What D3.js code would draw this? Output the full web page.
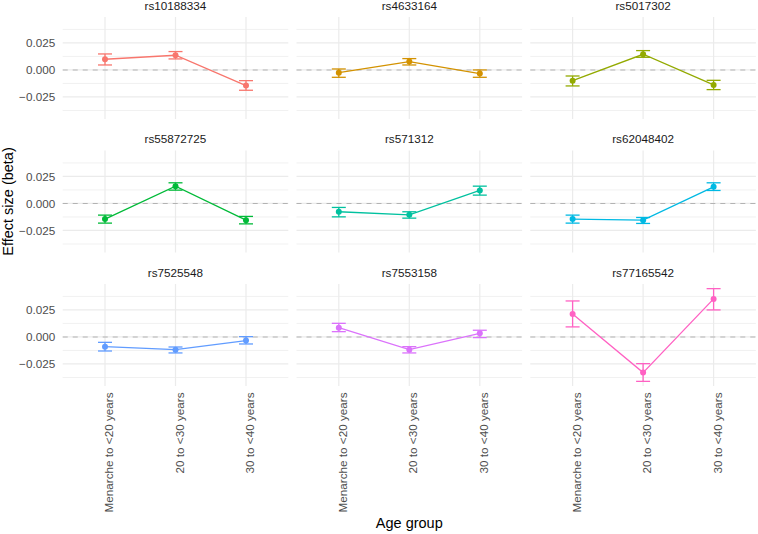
<!DOCTYPE html>
<html>
<head>
<meta charset="utf-8">
<script src="https://cdn.jsdelivr.net/npm/d3@7"></script>
<style>
  body { margin: 0; background: #fff; }
  text { font-family: "Liberation Sans", Arial, sans-serif; }
</style>
</head>
<body>
<svg></svg>
<script>
const WIDTH = 758;
const HEIGHT = 534;

// SNPs in facet order and the age groups on the x axis.
const snps = ['rs10188334', 'rs4633164', 'rs5017302',
  'rs55872725', 'rs571312', 'rs62048402',
  'rs7525548', 'rs7553158', 'rs77165542'];
const ageGroups = ['Menarche to <20 years', '20 to <30 years', '30 to <40 years'];
const colors = ['#F8766D', '#D39200', '#93AA00', '#00BA38', '#00C19F',
  '#00B9E3', '#619CFF', '#DB72FB', '#FF61C3'];

// Effect sizes and error bar ends, one row per SNP.
const beta = [
  [0.0099, 0.0136, -0.0145],
  [-0.0025, 0.0077, -0.0034],
  [-0.0099, 0.0145, -0.0139],
  [-0.0145, 0.0160, -0.0155],
  [-0.0077, -0.0105, 0.0120],
  [-0.0145, -0.0155, 0.0154],
  [-0.0090, -0.0118, -0.0034],
  [0.0086, -0.0118, 0.0034],
  [0.0213, -0.0330, 0.0352],
];
const lower = [
  [0.0046, 0.0102, -0.0188],
  [-0.0068, 0.0046, -0.0068],
  [-0.0148, 0.0117, -0.0182],
  [-0.0182, 0.0123, -0.0189],
  [-0.0124, -0.0136, 0.0077],
  [-0.0182, -0.0185, 0.0120],
  [-0.0130, -0.0148, -0.0065],
  [0.0049, -0.0148, -0.0006],
  [0.0093, -0.0411, 0.0250],
];
const upper = [
  [0.0148, 0.0170, -0.0099],
  [0.0009, 0.0105, 0.0000],
  [-0.0056, 0.0179, -0.0096],
  [-0.0108, 0.0191, -0.0120],
  [-0.0037, -0.0077, 0.0160],
  [-0.0108, -0.0130, 0.0191],
  [-0.0050, -0.0093, 0.0003],
  [0.0126, -0.0090, 0.0062],
  [0.0333, -0.0247, 0.0447],
];
const yTicks = [-0.025, 0, 0.025];
const yMinor = [-0.0375, -0.0125, 0.0125, 0.0375];

// Panel layout
const PANEL_W = 225.6;
const PANEL_H = 102;
const LEFT = 62.7;
const TOP = 17;
const GAP_X = 8.2;
const GAP_Y = 31.5;
const TICK_FONT = 11.7;

const svg = d3.select('svg')
    .attr('width', WIDTH)
    .attr('height', HEIGHT);

const x = d3.scalePoint()
    .domain(ageGroups)
    .range([0, PANEL_W])
    .padding(0.6);

const lo = d3.min(lower.flat());
const hi = d3.max(upper.flat());
const pad = (hi - lo) * 0.05;
const y = d3.scaleLinear()
    .domain([lo - pad, hi + pad])
    .range([PANEL_H, 0]);

snps.forEach((snp, i) => {
  const col = i % 3;
  const row = Math.floor(i / 3);
  const g = svg.append('g')
      .attr('transform', `translate(${LEFT + col * (PANEL_W + GAP_X)},${TOP + row * (PANEL_H + GAP_Y)})`);

  // grid
  g.selectAll('.minor').data(yMinor).enter().append('line')
      .attr('x1', 0).attr('x2', PANEL_W)
      .attr('y1', (d) => y(d)).attr('y2', (d) => y(d))
      .attr('stroke', '#EBEBEB').attr('stroke-width', 0.7);
  g.selectAll('.major').data(yTicks).enter().append('line')
      .attr('x1', 0).attr('x2', PANEL_W)
      .attr('y1', (d) => y(d)).attr('y2', (d) => y(d))
      .attr('stroke', '#EBEBEB').attr('stroke-width', 1.2);
  g.selectAll('.vgrid').data(ageGroups).enter().append('line')
      .attr('x1', (d) => x(d)).attr('x2', (d) => x(d))
      .attr('y1', 0).attr('y2', PANEL_H)
      .attr('stroke', '#EBEBEB').attr('stroke-width', 1.2);

  // zero reference
  g.append('line')
      .attr('x1', 0).attr('x2', PANEL_W)
      .attr('y1', y(0)).attr('y2', y(0))
      .attr('stroke', '#B3B3B3')
      .attr('stroke-width', 1.1)
      .attr('stroke-dasharray', '5,5');

  const pts = ageGroups.map((a, j) => ({a, b: beta[i][j], l: lower[i][j], u: upper[i][j]}));
  const c = colors[i];

  // error bars
  const eb = g.selectAll('.eb').data(pts).enter().append('g')
      .attr('stroke', c).attr('stroke-width', 1.3).attr('fill', 'none');
  eb.append('line')
      .attr('x1', (d) => x(d.a)).attr('x2', (d) => x(d.a))
      .attr('y1', (d) => y(d.l)).attr('y2', (d) => y(d.u));
  eb.append('line')
      .attr('x1', (d) => x(d.a) - 7).attr('x2', (d) => x(d.a) + 7)
      .attr('y1', (d) => y(d.l)).attr('y2', (d) => y(d.l));
  eb.append('line')
      .attr('x1', (d) => x(d.a) - 7).attr('x2', (d) => x(d.a) + 7)
      .attr('y1', (d) => y(d.u)).attr('y2', (d) => y(d.u));

  g.append('path')
      .datum(pts)
      .attr('fill', 'none')
      .attr('stroke', c)
      .attr('stroke-width', 1.3)
      .attr('d', d3.line().x((d) => x(d.a)).y((d) => y(d.b)));

  g.selectAll('circle').data(pts).enter().append('circle')
      .attr('cx', (d) => x(d.a)).attr('cy', (d) => y(d.b))
      .attr('r', 3).attr('fill', c);

  // strip label
  g.append('text')
      .attr('x', PANEL_W / 2).attr('y', -7.5)
      .attr('text-anchor', 'middle')
      .attr('font-size', TICK_FONT)
      .attr('fill', '#1A1A1A')
      .text(snp);

  // y tick labels on the first column
  if (col === 0) {
    g.selectAll('.ylab').data(yTicks).enter().append('text')
        .attr('x', -7.5).attr('y', (d) => y(d))
        .attr('dy', '0.35em')
        .attr('text-anchor', 'end')
        .attr('font-size', TICK_FONT)
        .attr('fill', '#4D4D4D')
        .text((d) => d3.format('.3f')(d).replace('-', '\u2212'));
  }

  // x tick labels on the bottom row
  if (row === 2) {
    g.selectAll('.xlab').data(ageGroups).enter().append('text')
        .attr('transform', (d) => `translate(${x(d)},${PANEL_H + 6.5}) rotate(-90)`)
        .attr('y', 4)
        .attr('dy', '0.35em')
        .attr('text-anchor', 'end')
        .attr('font-size', TICK_FONT)
        .attr('fill', '#4D4D4D')
        .text((d) => d);
  }
});

// axis titles
svg.append('text')
    .attr('transform', `translate(12.5,${TOP + (3 * PANEL_H + 2 * GAP_Y) / 2}) rotate(-90)`)
    .attr('text-anchor', 'middle')
    .attr('font-size', 14.5)
    .attr('fill', '#000')
    .text('Effect size (beta)');

svg.append('text')
    .attr('x', LEFT + (3 * PANEL_W + 2 * GAP_X) / 2)
    .attr('y', 527.5)
    .attr('text-anchor', 'middle')
    .attr('font-size', 14.5)
    .attr('fill', '#000')
    .text('Age group');
</script>
</body>
</html>
